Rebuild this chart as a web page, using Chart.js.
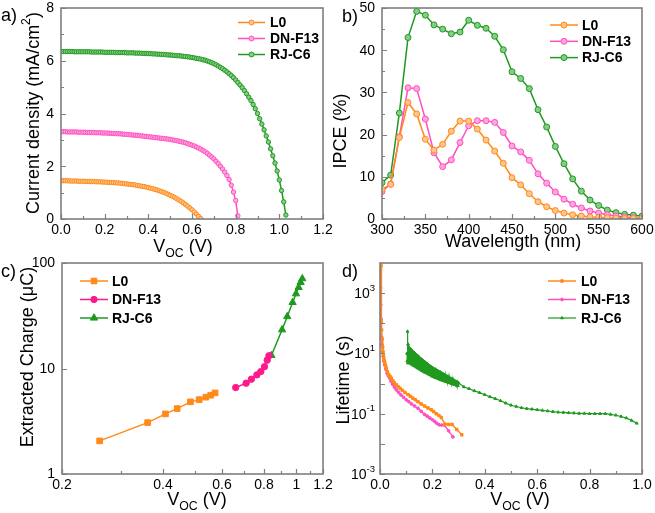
<!DOCTYPE html>
<html><head><meta charset="utf-8">
<script src="https://cdn.jsdelivr.net/npm/chart.js@4.4.1/dist/chart.umd.min.js"></script>
<style>
html,body{margin:0;padding:0;background:#fff;}
#wrap{position:relative;width:655px;height:513px;overflow:hidden;background:#fff;}
canvas{position:absolute;left:0;top:0;width:655px;height:513px;}
</style></head><body>
<div id="wrap">
<canvas id="ca" width="655" height="513"></canvas>
<canvas id="cb" width="655" height="513"></canvas>
<canvas id="cc" width="655" height="513"></canvas>
<canvas id="cd" width="655" height="513"></canvas>
</div>
<script>
// ---------------- DATA ----------------
const seriesNames = ['L0', 'DN-F13', 'RJ-C6'];

// (a) J-V curves
const jvVoltage = [0.00,0.01,0.02,0.03,0.04,0.05,0.06,0.07,0.08,0.09,0.10,0.11,0.12,0.13,0.14,0.15,0.16,0.17,0.18,0.19,0.20,
0.21,0.22,0.23,0.24,0.25,0.26,0.27,0.28,0.29,0.30,0.31,0.32,0.33,0.34,0.35,0.36,0.37,0.38,0.39,0.40,
0.41,0.42,0.43,0.44,0.45,0.46,0.47,0.48,0.49,0.50,0.51,0.52,0.53,0.54,0.55,0.56,0.57,0.58,0.59,0.60,
0.61,0.62,0.63,0.64,0.65,0.66,0.67,0.68,0.69,0.70,0.71,0.72,0.73,0.74,0.75,0.76,0.77,0.78,0.79,0.80,
0.81,0.82,0.83,0.84,0.85,0.86,0.87,0.88,0.89,0.90,0.91,0.92,0.93,0.94,0.95,0.96,0.97,0.98,0.99,1.00,
1.01,1.02,1.03];
const jvL0 = [1.45,1.45,1.45,1.45,1.44,1.44,1.44,1.44,1.43,1.43,1.43,
1.43,1.42,1.42,1.42,1.42,1.41,1.41,1.41,1.40,1.40,
1.39,1.39,1.38,1.38,1.37,1.37,1.36,1.35,1.34,1.33,
1.32,1.31,1.30,1.29,1.27,1.26,1.24,1.23,1.21,1.19,
1.17,1.15,1.12,1.10,1.07,1.04,1.01,0.98,0.94,0.90,
0.86,0.82,0.77,0.72,0.67,0.61,0.55,0.49,0.42,0.35,
0.27,0.19,0.10,0.02];
const jvDN = [3.31,3.31,3.31,3.30,3.30,3.30,3.30,3.30,3.29,3.29,3.29,
3.29,3.28,3.28,3.28,3.28,3.27,3.27,3.27,3.26,3.26,
3.26,3.25,3.25,3.24,3.24,3.23,3.23,3.22,3.21,3.21,
3.20,3.19,3.18,3.18,3.17,3.16,3.15,3.14,3.13,3.12,
3.11,3.10,3.09,3.08,3.07,3.06,3.05,3.04,3.03,3.02,
3.00,2.98,2.97,2.95,2.93,2.91,2.89,2.86,2.83,2.80,
2.77,2.73,2.69,2.65,2.60,2.55,2.49,2.42,2.35,2.28,
2.19,2.10,2.00,1.90,1.78,1.65,1.50,1.28,1.02,0.70,0.12];
const jvRJ = [6.35,6.35,6.35,6.35,6.35,6.35,6.34,6.34,6.34,6.34,6.34,
6.34,6.34,6.34,6.33,6.33,6.33,6.33,6.33,6.33,6.32,
6.32,6.32,6.32,6.32,6.31,6.31,6.31,6.31,6.31,6.30,
6.30,6.30,6.30,6.29,6.29,6.29,6.28,6.28,6.28,6.27,
6.27,6.26,6.26,6.25,6.25,6.24,6.24,6.23,6.22,6.22,
6.21,6.20,6.19,6.19,6.18,6.17,6.16,6.15,6.14,6.12,
6.11,6.09,6.08,6.06,6.04,6.02,5.99,5.96,5.93,5.89,
5.85,5.80,5.75,5.70,5.64,5.58,5.51,5.44,5.36,5.27,
5.18,5.08,4.98,4.87,4.75,4.62,4.49,4.34,4.18,4.00,
3.80,3.60,3.38,3.15,2.92,2.66,2.40,2.12,1.82,1.48,
1.08,0.65,0.15];

// (b) IPCE
const ipceWavelength = [300,310,320,330,340,350,360,370,380,390,400,410,420,430,440,450,460,470,480,490,500,510,520,530,540,550,560,570,580,590,600];
const ipceL0 = [7.0,8.2,19.3,27.6,24.9,18.9,16.3,17.7,20.8,23.2,23.2,21.3,18.7,16.1,13.2,9.8,8.1,6.0,4.1,2.9,2.0,1.4,1.0,0.7,0.5,0.4,0.3,0.2,0.1,0.1,0.1];
const ipceDN = [6.5,8.3,19.5,31.1,30.9,23.7,15.7,12.4,14.0,18.1,22.1,23.3,23.3,22.9,20.5,17.3,15.9,13.9,10.7,8.5,6.4,4.7,3.5,2.6,1.9,1.4,1.0,0.7,0.5,0.3,0.2];
const ipceRJ = [8.6,10.4,25.1,43.0,49.2,48.3,46.0,45.0,43.9,44.3,47.1,45.9,45.2,43.3,40.1,34.9,33.3,30.9,25.9,21.8,17.2,13.1,9.5,6.6,4.5,3.2,2.1,1.5,1.1,0.9,0.7];

// (c) Extracted charge vs Voc
const chVocL0 = [0.259,0.360,0.407,0.441,0.483,0.513,0.537,0.555,0.572];
const chL0    = [2.06,3.07,3.71,4.17,4.83,5.07,5.35,5.58,5.87];
const chVocDN = [0.659,0.708,0.734,0.762,0.783,0.803,0.818,0.828];
const chDN    = [6.6,7.26,7.92,8.7,9.35,10.4,12.0,13.2];
const chVocRJ = [0.842,0.906,0.939,0.974,0.997,1.015,1.029,1.041];
const chRJ    = [13.3,23.3,31.1,42.3,51.1,58.7,65.5,71.0];

// (d) Lifetime vs Voc
const ltVocL0 = [0.003,0.004,0.005,0.006,0.008,0.010,0.011,0.013,0.014,0.016,0.018,0.021,0.024,0.028,0.033,0.038,0.043,0.049,0.055,0.062,0.069,
0.077,0.085,0.095,0.107,0.116,0.125,0.135,0.145,0.157,0.170,0.183,0.196,0.205,0.215,0.225,0.234,0.248,0.262,0.275,0.293,0.312];
const ltL0    = [10000,8000,115,60,30,16,11.7,8.5,7.0,5.8,5.0,4.0,3.24,2.5,2.0,1.74,1.51,1.25,1.05,0.91,0.79,
0.69,0.60,0.51,0.43,0.38,0.33,0.29,0.25,0.21,0.18,0.155,0.135,0.117,0.10,0.087,0.075,0.045,0.044,0.044,0.030,0.020];
const ltVocDN = [0.001,0.002,0.003,0.004,0.005,0.006,0.008,0.010,0.012,0.015,0.018,0.022,0.027,0.032,0.037,0.042,0.048,0.055,0.062,0.071,
0.080,0.090,0.100,0.110,0.120,0.132,0.145,0.157,0.170,0.180,0.190,0.200,0.209,0.217,0.225,0.235,0.245,0.262,0.278];
const ltDN    = [10000,1500,417,140,60,35,19.5,11.5,8.0,5.5,4.17,3.0,2.2,1.8,1.51,1.2,0.95,0.76,0.62,0.51,
0.42,0.35,0.29,0.25,0.21,0.18,0.151,0.12,0.095,0.083,0.072,0.063,0.055,0.048,0.043,0.042,0.042,0.027,0.017];
const ltVocRJ = [0.103,0.104,0.105,0.106,0.107,0.108,
0.1100,0.1125,0.1150,0.1175,0.1200,0.1225,0.1250,0.1275,0.1300,0.1325,0.1350,0.1375,0.1400,0.1425,0.1450,0.1475,
0.1500,0.1525,0.1550,0.1575,0.1600,0.1625,0.1650,0.1675,0.1700,0.1725,0.1750,0.1775,0.1800,0.1825,0.1850,0.1875,
0.1900,0.1925,0.1950,0.1975,0.2000,0.2025,0.2050,0.2075,0.2100,0.2125,0.2150,0.2175,0.2200,0.2225,0.2250,0.2275,
0.2300,0.2325,0.2350,0.2375,0.2400,0.2425,0.2450,0.2475,0.2500,0.2525,0.2550,0.2575,0.2600,0.2625,0.2650,0.2675,
0.2700,0.2725,0.2750,0.2775,0.2800,0.2825,0.2850,0.2875,0.2900,0.2925,0.2950,0.2975,0.3000,
0.32,0.34,0.36,0.38,0.40,0.42,0.44,0.46,0.48,0.50,0.52,0.54,0.56,0.58,0.60,0.62,0.64,0.66,0.68,0.70,0.72,0.74,0.76,0.78,0.80,0.82,0.84,0.86,0.88,0.90,0.92,0.94,0.96,0.98];
const ltRJ    = [10,5.62,53.7,4.79,20,5.25,
15.85,4.90,14.45,4.57,13.18,4.27,11.75,3.98,10.72,3.80,9.77,3.55,8.91,3.31,8.13,3.16,
7.41,2.95,6.76,2.75,6.31,2.63,5.75,2.45,5.37,2.34,4.90,2.24,4.57,2.14,4.17,2.00,
3.89,1.91,3.63,1.78,3.39,1.70,3.16,1.62,3.02,1.55,2.82,1.51,2.69,1.45,2.51,1.38,
2.40,1.32,2.24,1.29,2.14,1.23,2.00,1.20,1.86,1.15,1.78,1.12,1.66,1.07,1.58,1.05,
1.48,1.00,1.41,0.98,1.32,0.93,1.26,0.91,1.17,0.87,1.12,0.85,1.05,
0.776,0.676,0.575,0.501,0.427,0.363,0.316,0.269,0.224,0.191,0.174,0.158,0.148,0.141,0.135,0.129,0.123,0.117,0.112,0.110,0.107,0.105,0.102,0.102,0.100,0.100,0.100,0.100,0.095,0.089,0.081,0.072,0.060,0.048];

// tick values and labels
const aXTicks = [0,0.2,0.4,0.6,0.8,1.0,1.2];
const aXTickLabels = ['0.0','0.2','0.4','0.6','0.8','1.0','1.2'];
const aYTicks = [0,2,4,6,8];
const aYTickLabels = ['0','2','4','6','8'];
const bXTicks = [300,350,400,450,500,550,600];
const bXTickLabels = ['300','350','400','450','500','550','600'];
const bYTicks = [0,10,20,30,40,50];
const bYTickLabels = ['0','10','20','30','40','50'];
const cXTicks = [0.2,0.4,0.6,0.8,1,1.2];
const cXTickLabels = ['0.2','0.4','0.6','0.8','1','1.2'];
const cYTicks = [1,10,100];
const cYTickLabels = ['1','10','100'];
const dXTicks = [0,0.2,0.4,0.6,0.8,1.0];
const dXTickLabels = ['0.0','0.2','0.4','0.6','0.8','1.0'];
const dYTicks = [0.001,0.1,10,1000];
const dYTickLabels = [['10','-3'],['10','-1'],['10','1'],['10','3']];

// ---------------- STYLE ----------------
const FONT = "'Liberation Sans', Arial, Helvetica, sans-serif";
const FRAME = '#7f7f7f';
const ORANGE = '#ff8a1a', ORANGE_L = '#ffc58a';
const PINK = '#ff4fc0', PINK_L = '#ffa6df';
const GREEN = '#1f9a1f', GREEN_L = '#86cc86';
const PINK_C = '#ff1a8c';

function pts(xs, ys) { return ys.map((y, i) => ({x: xs[i], y: y})); }

function richText(ctx, segs, size) {
  let w = 0;
  const items = segs.map(s => {
    const fs = s.s ? size * 0.68 : size;
    ctx.font = (s.b ? 'bold ' : '') + fs + 'px ' + FONT;
    const m = ctx.measureText(s.t).width;
    w += m;
    return {t: s.t, fs, m, dy: s.s === 'sub' ? size * 0.28 : (s.s === 'sup' ? -size * 0.42 : 0), b: s.b};
  });
  return {items, w};
}
function drawRich(ctx, segs, x, y, size, align) {
  const r = richText(ctx, segs, size);
  let cx = align === 'center' ? x - r.w / 2 : (align === 'right' ? x - r.w : x);
  ctx.textAlign = 'left';
  for (const it of r.items) {
    ctx.font = (it.b ? 'bold ' : '') + it.fs + 'px ' + FONT;
    ctx.fillText(it.t, cx, y + it.dy);
    cx += it.m;
  }
}

const deco = {
  id: 'deco',
  afterDatasetsDraw(chart, args, o) {
    const ctx = chart.ctx, ca = chart.chartArea;
    const xs = chart.scales.x, ys = chart.scales.y;
    ctx.save();
    // ticks (inward, bottom & left)
    ctx.strokeStyle = FRAME; ctx.lineWidth = 1.2;
    ctx.beginPath();
    const tk = (arr, len, axis) => {
      for (const v of arr) {
        if (axis === 'x') { const p = Math.round(xs.getPixelForValue(v)) + 0.5; ctx.moveTo(p, ca.bottom); ctx.lineTo(p, ca.bottom - len); }
        else { const p = Math.round(ys.getPixelForValue(v)) + 0.5; ctx.moveTo(ca.left, p); ctx.lineTo(ca.left + len, p); }
      }
    };
    tk(o.xMajor, 5, 'x'); tk(o.xMinor || [], 3, 'x');
    tk(o.yMajor, 5, 'y'); tk(o.yMinor || [], 3, 'y');
    ctx.stroke();
    // frame
    ctx.lineWidth = 1.6;
    ctx.strokeRect(ca.left, ca.top, ca.right - ca.left, ca.bottom - ca.top);
    // tick labels
    ctx.fillStyle = '#000';
    ctx.font = '14px ' + FONT;
    ctx.textBaseline = 'middle';
    ctx.textAlign = 'center';
    o.xLabels.vals.forEach((v, i) => ctx.fillText(o.xLabels.text[i], xs.getPixelForValue(v), ca.bottom + 11));
    if (o.yLabels.rich) {
      o.yLabels.vals.forEach((v, i) => {
        const lab = o.yLabels.text[i];
        drawRich(ctx, [{t: lab[0]}, {t: lab[1], s: 'sup'}], ca.left - 5, ys.getPixelForValue(v) + 1, 14, 'right');
      });
    } else {
      ctx.textAlign = 'right';
      o.yLabels.vals.forEach((v, i) => ctx.fillText(o.yLabels.text[i], ca.left - 7, ys.getPixelForValue(v) + 0.5));
    }
    // legend
    const lg = o.legend;
    chart.data.datasets.forEach((ds, i) => {
      const y = lg.y0 + i * lg.dy;
      ctx.strokeStyle = ds.borderColor; ctx.lineWidth = ds.borderWidth;
      ctx.beginPath(); ctx.moveTo(lg.x1, y); ctx.lineTo(lg.x2, y); ctx.stroke();
      ctx.fillStyle = ds.pointBackgroundColor || ds.borderColor;
      ctx.strokeStyle = ds.pointBorderColor || ds.borderColor;
      ctx.lineWidth = ds.pointBorderWidth || 1;
      Chart.helpers.drawPoint(ctx, {pointStyle: ds.pointStyle, rotation: 0, radius: lg.r || ds.pointRadius, borderWidth: ds.pointBorderWidth || 1}, (lg.x1 + lg.x2) / 2, y);
      ctx.fillStyle = '#000';
      ctx.font = 'bold 14px ' + FONT;
      ctx.textAlign = 'left'; ctx.textBaseline = 'middle';
      ctx.fillText(ds.label, lg.tx, y + 1);
    });
    // titles
    ctx.fillStyle = '#000';
    ctx.textBaseline = 'alphabetic';
    drawRich(ctx, o.xTitle.segs, o.xTitle.x, o.xTitle.y, 18, 'center');
    ctx.save();
    ctx.translate(o.yTitle.x, o.yTitle.y);
    ctx.rotate(-Math.PI / 2);
    ctx.textBaseline = 'middle';
    drawRich(ctx, o.yTitle.segs, 0, 0, 18, 'center');
    ctx.restore();
    // panel label
    ctx.font = '18px ' + FONT; ctx.textAlign = 'left'; ctx.textBaseline = 'alphabetic';
    ctx.fillText(o.panel.t, o.panel.x, o.panel.y);
    ctx.restore();
  }
};

function axis(type, min, max, tickVals, isX, box) {
  return {
    type, min, max,
    position: isX ? 'bottom' : 'left',
    afterBuildTicks: s => { s.ticks = tickVals.map(v => ({value: v})); },
    afterFit: s => { if (isX) s.height = 513 - box.bottom; else s.width = box.left; },
    grid: {display: false, drawTicks: false},
    border: {display: false},
    ticks: {display: false}
  };
}

function make(id, box, xAx, yAx, datasets, decoOpts) {
  return new Chart(document.getElementById(id), {
    type: 'line',
    data: {datasets},
    options: {
      responsive: false, animation: false, events: [],
      layout: {padding: {left: 0, top: box.top, right: 655 - box.right, bottom: 0}},
      plugins: {legend: {display: false}, tooltip: {enabled: false}, deco: decoOpts},
      scales: {x: xAx, y: yAx}
    },
    plugins: [deco]
  });
}

function ds(label, data, color, fill, style, r, bw, pbw) {
  return {label, data, borderColor: color, backgroundColor: fill, pointBackgroundColor: fill, pointBorderColor: color,
    pointStyle: style, pointRadius: r, pointBorderWidth: pbw, borderWidth: bw, fill: false, tension: 0};
}

// ---------- (a) ----------
const boxA = {left: 61, top: 8, right: 323, bottom: 219};
make('ca', boxA,
  axis('linear', 0, 1.2, aXTicks, true, boxA),
  axis('linear', 0, 8, aYTicks, false, boxA),
  [ds(seriesNames[0], pts(jvVoltage, jvL0), ORANGE, ORANGE_L, 'circle', 2.2, 1.5, 1),
   ds(seriesNames[1], pts(jvVoltage, jvDN), PINK, PINK_L, 'circle', 2.2, 1.5, 1),
   ds(seriesNames[2], pts(jvVoltage, jvRJ), GREEN, GREEN_L, 'circle', 2.2, 1.5, 1)],
  {xMajor: aXTicks, xMinor: [0.1,0.3,0.5,0.7,0.9,1.1], yMajor: aYTicks, yMinor: [1,3,5,7],
   xLabels: {vals: aXTicks, text: aXTickLabels}, yLabels: {vals: aYTicks, text: aYTickLabels},
   legend: {x1: 238, x2: 265, tx: 270, y0: 22.5, dy: 16, r: 2.5},
   xTitle: {x: 183, y: 252, segs: [{t: 'V'}, {t: 'OC', s: 'sub'}, {t: ' (V)'}]},
   yTitle: {x: 34, y: 113, segs: [{t: 'Current density (mA/cm'}, {t: '2', s: 'sup'}, {t: ')'}]},
   panel: {t: 'a)', x: 1, y: 21}});

// ---------- (b) ----------
const boxB = {left: 382, top: 8, right: 642, bottom: 219};
make('cb', boxB,
  axis('linear', 300, 600, bXTicks, true, boxB),
  axis('linear', 0, 50, bYTicks, false, boxB),
  [ds(seriesNames[0], pts(ipceWavelength, ipceL0), ORANGE, ORANGE_L, 'circle', 3, 1.5, 1),
   ds(seriesNames[1], pts(ipceWavelength, ipceDN), PINK, PINK_L, 'circle', 3, 1.5, 1),
   ds(seriesNames[2], pts(ipceWavelength, ipceRJ), GREEN, GREEN_L, 'circle', 3, 1.5, 1)],
  {xMajor: bXTicks, xMinor: [325,375,425,475,525,575], yMajor: bYTicks, yMinor: [5,15,25,35,45],
   xLabels: {vals: bXTicks, text: bXTickLabels}, yLabels: {vals: bYTicks, text: bYTickLabels},
   legend: {x1: 550, x2: 578, tx: 582, y0: 25, dy: 16.3, r: 3},
   xTitle: {x: 513, y: 247, segs: [{t: 'Wavelength (nm)'}]},
   yTitle: {x: 341, y: 131, segs: [{t: 'IPCE (%)'}]},
   panel: {t: 'b)', x: 342, y: 22}});

// ---------- (c) ----------
const boxC = {left: 62, top: 263, right: 323, bottom: 474};
make('cc', boxC,
  axis('logarithmic', 0.2, 1.2, cXTicks, true, boxC),
  axis('logarithmic', 1, 100, cYTicks, false, boxC),
  [ds(seriesNames[0], pts(chVocL0, chL0), ORANGE, ORANGE, 'rect', 4, 1.5, 1),
   ds(seriesNames[1], pts(chVocDN, chDN), PINK_C, PINK_C, 'circle', 3.2, 1.5, 1),
   ds(seriesNames[2], pts(chVocRJ, chRJ), GREEN, GREEN, 'triangle', 4.2, 1.5, 1)],
  {xMajor: cXTicks, xMinor: [0.3,0.5,0.7,0.9,1.1], yMajor: cYTicks, yMinor: [],
   xLabels: {vals: cXTicks, text: cXTickLabels}, yLabels: {vals: cYTicks, text: cYTickLabels},
   legend: {x1: 80, x2: 108, tx: 112, y0: 281, dy: 18.5},
   xTitle: {x: 197, y: 505, segs: [{t: 'V'}, {t: 'OC', s: 'sub'}, {t: ' (V)'}]},
   yTitle: {x: 28, y: 357, segs: [{t: 'Extracted Charge (\u03bcC)'}]},
   panel: {t: 'c)', x: 1, y: 277}});

// ---------- (d) ----------
const boxD = {left: 380, top: 263, right: 642, bottom: 474};
make('cd', boxD,
  axis('linear', 0, 1.0, dXTicks, true, boxD),
  axis('logarithmic', 0.001, 10000, dYTicks, false, boxD),
  [ds(seriesNames[0], pts(ltVocL0, ltL0), ORANGE, ORANGE, 'rect', 1.8, 1.5, 1),
   ds(seriesNames[1], pts(ltVocDN, ltDN), PINK, PINK, 'circle', 1.4, 1.5, 1),
   ds(seriesNames[2], pts(ltVocRJ, ltRJ), GREEN, GREEN, 'triangle', 1.6, 1.2, 1)],
  {xMajor: dXTicks, xMinor: [0.1,0.3,0.5,0.7,0.9], yMajor: [0.001,0.01,0.1,1,10,100,1000], yMinor: [],
   xLabels: {vals: dXTicks, text: dXTickLabels}, yLabels: {vals: dYTicks, text: dYTickLabels, rich: true},
   legend: {x1: 548, x2: 576, tx: 581, y0: 281, dy: 18.5},
   xTitle: {x: 520, y: 505, segs: [{t: 'V'}, {t: 'OC', s: 'sub'}, {t: ' (V)'}]},
   yTitle: {x: 344, y: 380, segs: [{t: 'Lifetime (s)'}]},
   panel: {t: 'd)', x: 342, y: 277}});
</script>
</body></html>
